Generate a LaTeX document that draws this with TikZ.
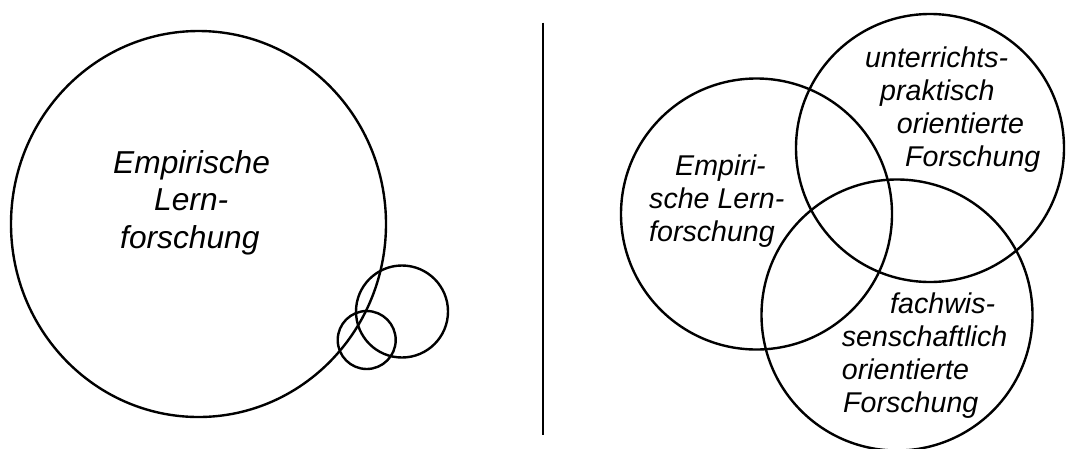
\documentclass[tikz,border=0pt]{standalone}
\usepackage{fontspec}
\setmainfont{Liberation Sans}
\tikzset{
  ring/.style={draw=black, line width=2.4pt},
  bigtxt/.style={inner sep=0pt, anchor=base west, font=\itshape\fontsize{31.7}{37}\selectfont},
  smalltxt/.style={inner sep=0pt, anchor=base west, font=\itshape\fontsize{28.6}{33}\selectfont},
}
\begin{document}
\begin{tikzpicture}[x=1pt,y=-1pt]
\useasboundingbox (0,0) rectangle (1067,448);
% left side
\draw[ring] (198.5,224) ellipse [x radius=187.5, y radius=193];
\draw[ring] (402,311.5) circle [radius=46];
\draw[ring] (366.7,340) circle [radius=29];
\node[bigtxt] (l1) at (113,173) {Empirische};
\node[bigtxt] (l2) at (154,210.5) {Lern-};
\node[bigtxt] (l3) at (120,248) {forschung};
% separator
\coordinate (st) at (542.7,22.5);
\coordinate (sb) at (542.7,435);
\draw[line width=2pt] (st) -- (sb);
% right side
\draw[ring] (756.5,214) circle [radius=135.5];
\draw[ring] (930,148) circle [radius=134];
\draw[ring] (897,315) circle [radius=135.5];
\node[smalltxt] (a1) at (675,175) {Empiri-};
\node[smalltxt] (a2) at (649,208) {sche Lern-};
\node[smalltxt] (a3) at (649,241) {forschung};
\node[smalltxt] (b1) at (865,67) {unterrichts-};
\node[smalltxt] (b2) at (880,100) {praktisch};
\node[smalltxt] (b3) at (896.7,133) {orientierte};
\node[smalltxt] (b4) at (905,166) {Forschung};
\node[smalltxt] (c1) at (890,313) {fachwis-};
\node[smalltxt] (c2) at (841.7,346) {senschaftlich};
\node[smalltxt] (c3) at (841.7,379) {orientierte};
\node[smalltxt] (c4) at (843,412) {Forschung};
\end{tikzpicture}
\end{document}
